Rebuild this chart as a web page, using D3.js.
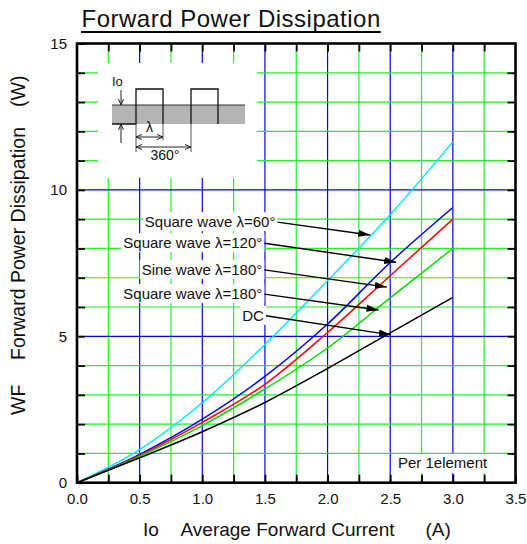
<!DOCTYPE html>
<html>
<head>
    <title>Forward Power Dissipation</title>
    <script src="https://d3js.org/d3.v7.min.js"></script>
    <style>
        body {
            margin: 0;
            padding: 0;
            background: #fff;
        }
        svg text {
            font-family: "Liberation Sans", Arial, sans-serif;
            fill: #111;
        }
    </style>
</head>
<body>
    <div id="chart"></div>

    <script>
        // Chart values
        const currentA = [0, 0.5, 1.0, 1.5, 2.0, 2.5, 3.0];
        const sq60 = [0, 1.13, 2.73, 4.72, 6.90, 9.15, 11.64];
        const sq120 = [0, 0.97, 2.17, 3.63, 5.42, 7.52, 9.40];
        const sine180 = [0, 0.93, 2.06, 3.36, 5.13, 7.07, 9.00];
        const sq180 = [0, 0.90, 1.95, 3.20, 4.60, 6.31, 8.00];
        const dcLine = [0, 0.85, 1.74, 2.74, 3.90, 5.12, 6.33];

        const xTickLabels = [0, 0.5, 1.0, 1.5, 2.0, 2.5, 3.0, 3.5];
        const yTickLabels = [0, 5, 10, 15];

        const seriesNames = ['Square wave λ=60°', 'Square wave λ=120°', 'Sine wave λ=180°', 'Square wave λ=180°', 'DC'];
        const seriesValues = [sq60, sq120, sine180, sq180, dcLine];
        const seriesColors = ['#00e8ff', '#0000ff', '#ff0000', '#00dd00', '#000000'];

        // Set up dimensions
        const width = 527, height = 544;
        const pL = 77, pR = 515.5, pT = 43.5, pB = 482.7;

        const svg = d3.select('#chart')
            .append('svg')
            .attr('width', width)
            .attr('height', height);

        const x = d3.scaleLinear().domain([0, 3.5]).range([pL, pR]);
        const y = d3.scaleLinear().domain([0, 15]).range([pB, pT]);

        const fmt = d3.format('.1f');
        const xGrid = d3.range(1, 14).map(i => i * 0.25);
        const yGrid = d3.range(1, 15);

        // Grid
        svg.append('g').selectAll('line')
            .data(xGrid)
            .join('line')
            .attr('x1', d => x(d)).attr('x2', d => x(d))
            .attr('y1', pT).attr('y2', pB)
            .attr('stroke', d => (Math.round(d * 4) % 2 === 0) ? '#0000ff' : '#22f022')
            .attr('stroke-width', 1.2);

        svg.append('g').selectAll('line')
            .data(yGrid)
            .join('line')
            .attr('x1', pL).attr('x2', pR)
            .attr('y1', d => y(d)).attr('y2', d => y(d))
            .attr('stroke', d => d % 5 === 0 ? '#0000ff' : '#22f022')
            .attr('stroke-width', 1.2);

        // Inset box (waveform sketch) sits over the grid
        const inset = svg.append('g').attr('transform', 'translate(98,63)');
        inset.append('rect').attr('width', 159).attr('height', 115).attr('fill', '#fff');
        inset.append('rect').attr('x', 14).attr('y', 42).attr('width', 133).attr('height', 19).attr('fill', '#b4b4b4');
        inset.append('line').attr('x1', 14).attr('x2', 147).attr('y1', 42).attr('y2', 42)
            .attr('stroke', '#333').attr('stroke-width', 1.2);
        inset.append('path')
            .attr('d', 'M14,61H38V26H65V61M93,61V26H120V61')
            .attr('fill', 'none').attr('stroke', '#111').attr('stroke-width', 1.3);
        // extension lines
        inset.append('path')
            .attr('d', 'M38,61V89M65,61V77M93,61V89')
            .attr('fill', 'none').attr('stroke', '#555').attr('stroke-width', 1);
        // Io arrows
        inset.append('path')
            .attr('d', 'M23,27V42M20.5,36L23,42L25.5,36M23,80V61M20.5,67L23,61L25.5,67')
            .attr('fill', 'none').attr('stroke', '#222').attr('stroke-width', 1);
        // lambda and 360 dimensions
        inset.append('path')
            .attr('d', 'M38,74H65M44,71.5L38,74L44,76.5M59,71.5L65,74L59,76.5' +
                       'M38,84H93M44,81.5L38,84L44,86.5M87,81.5L93,84L87,86.5')
            .attr('fill', 'none').attr('stroke', '#222').attr('stroke-width', 1);
        inset.append('text').attr('x', 14).attr('y', 23).style('font-size', '13px').text('Io');
        inset.append('text').attr('x', 51.5).attr('y', 69).attr('text-anchor', 'middle').style('font-size', '14px').text('λ');
        inset.append('text').attr('x', 67).attr('y', 97).attr('text-anchor', 'middle').style('font-size', '14px').text('360°');

        // "Per 1element" box
        svg.append('rect').attr('x', 394).attr('y', 454).attr('width', 99).attr('height', 19).attr('fill', '#fff');
        svg.append('text').attr('x', 398).attr('y', 467.5).style('font-size', '15px').text('Per 1element');

        // Curves
        const line = d3.line()
            .x(d => x(d[0]))
            .y(d => y(d[1]))
            .curve(d3.curveMonotoneX);

        svg.append('g').selectAll('path')
            .data(seriesValues)
            .join('path')
            .attr('d', vals => line(currentA.map((c, i) => [c, vals[i]])))
            .attr('fill', 'none')
            .attr('stroke', (d, i) => seriesColors[i])
            .attr('stroke-width', 1.5);

        // Leader labels: text ends at (ax, ay), arrow runs to (bx, by)
        const notes = [
            {ax: 1.600, ay: 8.90, bx: 2.340, by: 8.46},
            {ax: 1.495, ay: 8.18, bx: 2.547, by: 7.53},
            {ax: 1.495, ay: 7.27, bx: 2.473, by: 6.68},
            {ax: 1.495, ay: 6.44, bx: 2.406, by: 5.90},
            {ax: 1.508, ay: 5.70, bx: 2.505, by: 5.05}
        ];

        svg.append('defs').append('marker')
            .attr('id', 'head')
            .attr('markerUnits', 'userSpaceOnUse')
            .attr('markerWidth', 13).attr('markerHeight', 8)
            .attr('refX', 12).attr('refY', 4)
            .attr('orient', 'auto')
            .append('path').attr('d', 'M0,0.5L12,4L0,7.5Z').attr('fill', '#000');

        notes.forEach((n, i) => {
            const g = svg.append('g');
            const box = g.append('rect').attr('fill', '#fff');
            const t = g.append('text')
                .attr('x', x(n.ax) - 2).attr('y', y(n.ay) + 5)
                .attr('text-anchor', 'end')
                .style('font-size', '15px')
                .text(seriesNames[i]);
            const bb = t.node().getBBox();
            box.attr('x', bb.x - 2).attr('y', bb.y - 1)
                .attr('width', bb.width + 4).attr('height', bb.height + 2);
            g.append('line')
                .attr('x1', x(n.ax)).attr('y1', y(n.ay))
                .attr('x2', x(n.bx)).attr('y2', y(n.by))
                .attr('stroke', '#000').attr('stroke-width', 1.4)
                .attr('marker-end', 'url(#head)');
        });

        // Axes with inward ticks
        const bottomAxis = d3.axisBottom(x)
            .tickValues([0].concat(xGrid, [3.5]))
            .tickSizeInner(-8).tickSizeOuter(0)
            .tickFormat(d => xTickLabels.some(v => Math.abs(v - d) < 1e-9) ? fmt(d) : '');
        const gB = svg.append('g').attr('transform', `translate(0,${pB})`).call(bottomAxis);
        gB.selectAll('text').attr('y', 21).attr('dy', null).style('font-size', '15px');

        const topAxis = d3.axisTop(x).tickValues(xGrid).tickSizeInner(-8).tickSizeOuter(0).tickFormat('');
        svg.append('g').attr('transform', `translate(0,${pT})`).call(topAxis);

        const leftAxis = d3.axisLeft(y)
            .tickValues(d3.range(0, 16))
            .tickSizeInner(-8).tickSizeOuter(0)
            .tickFormat(d => yTickLabels.includes(d) ? d : '');
        const gL = svg.append('g').attr('transform', `translate(${pL},0)`).call(leftAxis);
        gL.selectAll('text').attr('x', -10).style('font-size', '15px');

        const rightAxis = d3.axisRight(y).tickValues(yGrid).tickSizeInner(-8).tickSizeOuter(0).tickFormat('');
        svg.append('g').attr('transform', `translate(${pR},0)`).call(rightAxis);

        svg.selectAll('.domain').remove();
        svg.selectAll('.tick line').attr('stroke', '#000').attr('stroke-width', 1.8);
        svg.selectAll('.tick text').attr('fill', '#111');

        // Frame
        svg.append('rect')
            .attr('x', pL).attr('y', pT)
            .attr('width', pR - pL).attr('height', pB - pT)
            .attr('fill', 'none').attr('stroke', '#000').attr('stroke-width', 2.6);

        // Title with underline
        const title = svg.append('text')
            .attr('x', 81.5).attr('y', 26.5)
            .style('font-size', '24px')
            .style('letter-spacing', '0.5px')
            .text('Forward Power Dissipation');
        const tb = title.node().getBBox();
        svg.append('line')
            .attr('x1', 81).attr('x2', tb.x + tb.width)
            .attr('y1', 32).attr('y2', 32)
            .attr('stroke', '#000').attr('stroke-width', 2.2);

        // Axis titles
        svg.append('text').attr('x', 143).attr('y', 536).style('font-size', '19px').text('Io');
        svg.append('text').attr('x', 180.5).attr('y', 536).style('font-size', '19px').text('Average Forward Current');
        svg.append('text').attr('x', 425.5).attr('y', 536).style('font-size', '19px').text('(A)');

        [['WF', 415], ['Forward Power Dissipation', 360], ['(W)', 107]].forEach(([s, yy]) => {
            svg.append('text')
                .attr('transform', `translate(24.5,${yy}) rotate(-90)`)
                .style('font-size', '19.5px')
                .text(s);
        });
    </script>
</body>
</html>
